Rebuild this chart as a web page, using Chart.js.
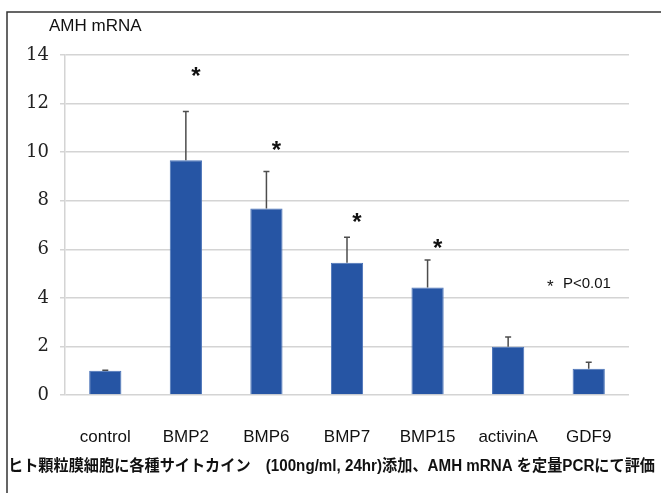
<!DOCTYPE html>
<html>
<head>
<meta charset="utf-8">
<script src="https://cdn.jsdelivr.net/npm/chart.js@4"></script>
<style>
html, body { margin: 0; padding: 0; background: #fff; }
#wrap { position: relative; width: 661px; height: 493px; }
</style>
</head>
<body>
<div id="wrap"><canvas id="amhChart" width="661" height="493"></canvas></div>
<script>
// AMH mRNA after cytokine treatment (mean and SD)
const cytokines = ["control", "BMP2", "BMP6", "BMP7", "BMP15", "activinA", "GDF9"];
const amhMean = [1.0, 9.67, 7.68, 5.45, 4.43, 1.99, 1.08];
const amhSD = [0.02, 2.0, 1.52, 1.05, 1.13, 0.4, 0.27];
// where the significance marks sit (y value), null = none
const starLevel = [null, 13.3, 10.25, 7.3, 6.2, null, null];

const sansFont = "'Liberation Sans', Arial, sans-serif";

//error bars, stars and the text around the plot
const extras = {
    id: "extras",
    afterDatasetsDraw(chart) {
        let ctx = chart.ctx;
        let y = chart.scales.y;
        let bars = chart.getDatasetMeta(0).data;
        ctx.save();
        ctx.strokeStyle = "#4d4d4d";
        ctx.lineWidth = 1.5;
        bars.forEach((bar, i) => {
            let top = y.getPixelForValue(amhMean[i] + amhSD[i]);
            ctx.beginPath();
            ctx.moveTo(bar.x, bar.y);
            ctx.lineTo(bar.x, top);
            ctx.moveTo(bar.x - 3, top);
            ctx.lineTo(bar.x + 3, top);
            ctx.stroke();
        });

        ctx.fillStyle = "#111";
        ctx.font = "bold 24px " + sansFont;
        ctx.textAlign = "center";
        ctx.textBaseline = "alphabetic";
        starLevel.forEach((v, i) => {
            if (v === null) return;
            ctx.fillText("*", bars[i].x + 10, y.getPixelForValue(v) + 12);
        });
        ctx.restore();
    },
    afterDraw(chart) {
        let ctx = chart.ctx;
        ctx.save();
        // frame
        ctx.strokeStyle = "#333";
        ctx.lineWidth = 1.5;
        ctx.beginPath();
        ctx.moveTo(7, 493);
        ctx.lineTo(7, 12);
        ctx.lineTo(661, 12);
        ctx.stroke();

        ctx.fillStyle = "#111";
        ctx.textBaseline = "middle";
        ctx.textAlign = "left";
        ctx.font = "17px " + sansFont;
        ctx.fillText("AMH mRNA", 49, 26);

        ctx.font = "17px " + sansFont;
        ctx.fillText("*", 547, 287);
        ctx.font = "15px " + sansFont;
        ctx.fillText("P<0.01", 563, 284);

        ctx.font = "bold 16px 'Liberation Sans', 'Noto Sans CJK JP', sans-serif";
        ctx.fillText("ヒト顆粒膜細胞に各種サイトカイン　(100ng/ml, 24hr)添加、AMH mRNA を定量PCRにて評価", 8, 467, 647);
        ctx.restore();
    },
};

let amhCanvas = document.getElementById("amhChart").getContext("2d");

new Chart(amhCanvas, {
    type: "bar",
    data: {
        labels: cytokines,
        datasets: [{
            data: amhMean,
            backgroundColor: "#2655a4",
            borderColor: "#4a73b8",
            borderWidth: 1,
            barPercentage: 0.4,
            categoryPercentage: 1,
        }, ],
    },
    options: {
        responsive: false,
        animation: false,
        layout: {
            padding: { left: 8, top: 55, right: 32, bottom: 38 },
        },
        plugins: {
            legend: { display: false },
            tooltip: { enabled: false },
        },
        scales: {
            x: {
                grid: { display: false, drawTicks: false },
                border: { display: false },
                ticks: {
                    font: { family: sansFont, size: 17 },
                    color: "#111",
                    padding: 32,
                },
                afterFit(scale) {
                    scale.height = 60;
                },
            },
            y: {
                min: 0,
                max: 14,
                ticks: {
                    stepSize: 2,
                    font: { family: "'DejaVu Serif', serif", size: 18 },
                    color: "#222",
                    padding: 11,
                },
                grid: { color: "#d4d4d4", lineWidth: 1.5, tickLength: 5 },
                border: { color: "#d4d4d4", width: 1.5 },
                afterFit(scale) {
                    scale.width = 57;
                },
            },
        },
    },
    plugins: [extras],
});
</script>
</body>
</html>
